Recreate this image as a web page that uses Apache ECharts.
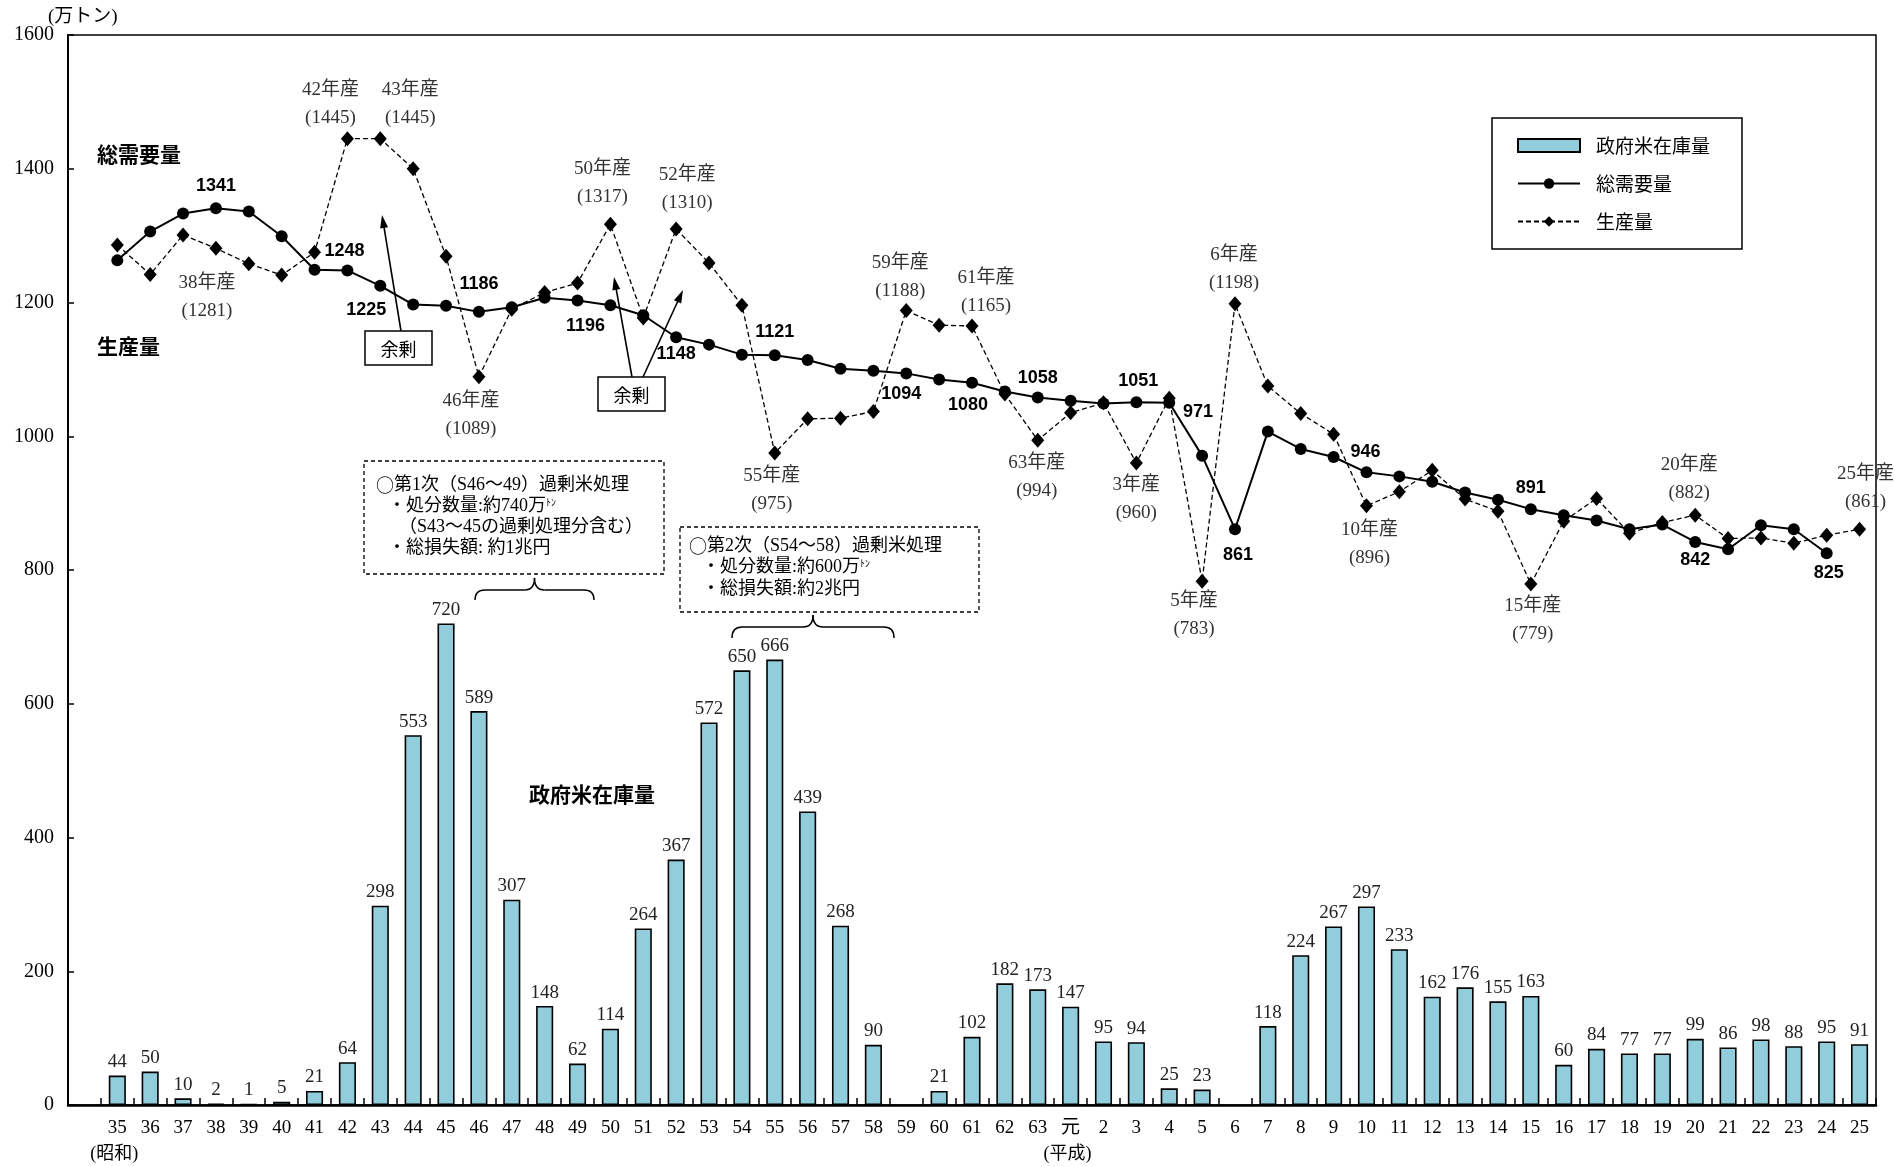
<!DOCTYPE html>
<html><head><meta charset="utf-8">
<script src="https://cdn.jsdelivr.net/npm/echarts@6/dist/echarts.min.js"></script>
<style>html,body{margin:0;padding:0;background:#fff}#c{width:1894px;height:1167px}</style>
</head><body><div id="c"></div>
<script>
// ---------- DATA ----------
const years = ['35','36','37','38','39','40','41','42','43','44','45','46','47','48','49','50','51','52','53','54','55','56','57','58','59','60','61','62','63',
  '元','2','3','4','5','6','7','8','9','10','11','12','13','14','15','16','17','18','19','20','21','22','23','24','25'];
const eraLabels = {'35':'(昭和)','元':'(平成)'};
const yTicks = {min:0, max:1600, interval:200};

// 政府米在庫量 (万トン)
const stock = [44,50,10,2,1,5,21,64,298,553,720,589,307,148,62,114,264,367,572,650,666,439,268,90,null,21,102,182,173,
  147,95,94,25,23,null,118,224,267,297,233,162,176,155,163,60,84,77,77,99,86,98,88,95,91];
// 総需要量
const demand = [1263,1306,1333,1341,1336,1299,1249,1248,1225,1197,1195,1186,1193,1207,1203,1196,1181,1148,1137,1122,1121,1114,1101,1098,1094,1085,1080,1067,1058,
  1053,1049,1051,1050,971,861,1007,981,969,946,940,932,916,905,891,882,874,861,868,842,831,867,861,825,null];
// 生産量
const production = [1286,1242,1301,1281,1258,1241,1275,1445,1445,1400,1269,1089,1190,1215,1229,1317,1177,1310,1259,1196,975,1026,1027,1037,1188,1166,1165,1063,994,
  1035,1050,960,1057,783,1198,1075,1034,1003,896,917,949,906,888,779,873,907,855,871,882,847,848,840,852,861];

const demandLabelled = ['38','42','43','46','50','52','55','59','61','63','3','5','6','10','15','20','24'];
const productionLabelled = ['38','42','43','46','50','52','55','59','61','63','3','5','6','10','15','20','25'];

// ---------- STYLE ----------
const demandLabelOffset = {'38':[0,-22],'42':[-3,-19],'43':[-14,24],'46':[0,-28],'50':[-25,21],'52':[0,17],'55':[0,-23],'59':[-5,21],'61':[-4,22],'63':[0,-19],'3':[2,-21],'5':[-4,-44],'6':[3,26],'10':[-1,-20],'15':[0,-21],'20':[0,18],'24':[2,20]};
const prodLabelOffset = {'38':[-9,49],'42':[-17,-35],'43':[30,-35],'46':[-8,38],'50':[-8,-41],'52':[11,-40],'55':[-3,37],'59':[-6,-34],'61':[14,-34],'63':[-1,37],'3':[0,36],'5':[-8,34],'6':[-1,-35],'10':[3,38],'15':[2,36],'20':[-6,-36],'25':[6,-41]};

const SERIF = "'Liberation Serif','Noto Sans CJK JP',serif";
const CJK = "'Noto Sans CJK JP',sans-serif";
const BOLDNUM = "'Liberation Sans',Arial,sans-serif";

const cats = [''].concat(years);
const pad = arr => [null].concat(arr);

const demandData = pad(demand).map((v,i)=>{
  const c = cats[i];
  if (v == null || !demandLabelled.includes(c)) return v;
  return {value:v, label:{show:true, position:'inside', offset:demandLabelOffset[c]||[0,-20],
    formatter:String(v), fontFamily:BOLDNUM, fontWeight:'bold', fontSize:18, color:'#000'}};
});
const prodData = pad(production).map((v,i)=>{
  const c = cats[i];
  if (v == null || !productionLabelled.includes(c)) return v;
  return {value:v, label:{show:true, position:'inside', offset:prodLabelOffset[c]||[0,-30],
    formatter:c+'年産\n('+v+')', fontFamily:SERIF, fontSize:19, lineHeight:28, color:'#333', align:'center'}};
});

// ---------- ANNOTATION HELPERS ----------
function arrow(x1,y1,x2,y2){
  const a=Math.atan2(y2-y1,x2-x1), L=13, W=4;
  const bx=x2-L*Math.cos(a), by=y2-L*Math.sin(a);
  const px=-Math.sin(a)*W, py=Math.cos(a)*W;
  return [
    {type:'line', shape:{x1,y1,x2:bx+(x2-bx)*0.3,y2:by+(y2-by)*0.3}, style:{stroke:'#000',lineWidth:1.6}},
    {type:'polygon', shape:{points:[[x2,y2],[bx+px,by+py],[bx-px,by-py]]}, style:{fill:'#000'}}
  ];
}
function brace(x0,x1,yt,ym,yb){
  const xc=(x0+x1)/2, r=10, st={stroke:'#000',lineWidth:1.5,fill:null};
  return [
    {type:'bezierCurve', shape:{x1:x0,y1:yb,cpx1:x0,cpy1:ym,x2:x0+r,y2:ym}, style:st},
    {type:'line', shape:{x1:x0+r,y1:ym,x2:xc-r,y2:ym}, style:st},
    {type:'bezierCurve', shape:{x1:xc-r,y1:ym,cpx1:xc,cpy1:ym,x2:xc,y2:yt}, style:st},
    {type:'bezierCurve', shape:{x1:xc,y1:yt,cpx1:xc,cpy1:ym,x2:xc+r,y2:ym}, style:st},
    {type:'line', shape:{x1:xc+r,y1:ym,x2:x1-r,y2:ym}, style:st},
    {type:'bezierCurve', shape:{x1:x1-r,y1:ym,cpx1:x1,cpy1:ym,x2:x1,y2:yb}, style:st}
  ];
}
function txt(x,y,text,o){
  return {type:'text', x, y, style:Object.assign({text, fill:'#000', fontFamily:SERIF, fontSize:18, verticalAlign:'middle'}, o||{})};
}
function boxText(x,y,w,h,text){
  return [
    {type:'rect', shape:{x,y,width:w,height:h}, style:{fill:'#fff',stroke:'#000',lineWidth:1.5}},
    {type:'text', x:x+w/2, y:y+h/2+1, style:{text, fill:'#000', fontFamily:CJK, fontSize:18, align:'center', verticalAlign:'middle'}}
  ];
}
const annRich = {
  s:{fontSize:10, fontFamily:CJK, verticalAlign:'top', fill:'#000', padding:[0,0,6,0]},
  c:{fontSize:18, fontFamily:CJK, fill:'#000'}
};

const graphics = [].concat(
  [txt(48,17,'(万トン)',{fontSize:19})],
  [txt(97,154,'総需要量',{fontFamily:CJK,fontWeight:'bold',fontSize:21})],
  [txt(97,346,'生産量',{fontFamily:CJK,fontWeight:'bold',fontSize:21})],
  [txt(529,794,'政府米在庫量',{fontFamily:CJK,fontWeight:'bold',fontSize:21})],
  arrow(401,331,382,215),
  arrow(632,377,614,277),
  arrow(643,377,683,290),
  boxText(365,331,67,34,'余剰'),
  boxText(598,377,67,34,'余剰'),
  [{type:'rect', shape:{x:364,y:461,width:300,height:113}, style:{fill:'#fff',stroke:'#000',lineWidth:1.3,lineDash:[4,3]}}],
  [txt(376,485,'{c|○}第1次（S46～49）過剰米処理',{rich:annRich}),
   txt(388,506,'・処分数量:約740万{s|ﾄﾝ}',{rich:annRich}),
   txt(399,527,'（S43～45の過剰処理分含む）'),
   txt(388,548,'・総損失額: 約1兆円')],
  brace(475,594,578,590,600),
  [{type:'rect', shape:{x:680,y:527,width:299,height:85}, style:{fill:'#fff',stroke:'#000',lineWidth:1.3,lineDash:[4,3]}}],
  [txt(689,546,'{c|○}第2次（S54～58）過剰米処理',{rich:annRich}),
   txt(702,567,'・処分数量:約600万{s|ﾄﾝ}',{rich:annRich}),
   txt(702,589,'・総損失額:約2兆円')],
  brace(732,894,615,627,638)
);

const chart = echarts.init(document.getElementById('c'));
chart.setOption({
  backgroundColor:'#fff',
  animation:false,
  grid:{left:68, right:18, top:35, bottom:54, show:true, borderColor:'#000', borderWidth:1.5, backgroundColor:'transparent'},
  legend:{
    orient:'vertical', left:1492, top:118,
    padding:[18,32,18,25], itemGap:19, itemWidth:62, itemHeight:13,
    borderColor:'#000', borderWidth:1.5, backgroundColor:'#fff',
    textStyle:{fontFamily:CJK, fontSize:19, color:'#000', padding:[0,0,0,11]},
    data:[{name:'政府米在庫量', icon:'rect'}, {name:'総需要量'}, {name:'生産量'}]
  },
  xAxis:{
    type:'category', data:cats, boundaryGap:true,
    axisLine:{lineStyle:{color:'#000', width:2.5}},
    axisTick:{show:true, inside:true, length:7, interval:0, lineStyle:{color:'#000', width:1.5}},
    axisLabel:{interval:0, margin:10, color:'#000', fontFamily:SERIF, fontSize:19, lineHeight:26,
      formatter:v => eraLabels[v] ? v+'\n{e|'+eraLabels[v]+'}' : v,
      rich:{e:{fontFamily:SERIF, fontSize:18, lineHeight:26, color:'#000', padding:[0,6,0,0]}}},
    splitLine:{show:false}
  },
  yAxis:{
    type:'value', min:yTicks.min, max:yTicks.max, interval:yTicks.interval,
    axisLine:{show:true, lineStyle:{color:'#000', width:2}},
    axisTick:{show:true, inside:true, length:6, lineStyle:{color:'#000', width:1.5}},
    axisLabel:{color:'#000', fontFamily:SERIF, fontSize:20, margin:14, formatter:v => String(v)},
    splitLine:{show:false}
  },
  series:[
    {name:'政府米在庫量', type:'bar', data:pad(stock), barWidth:'52%', z:1,
      itemStyle:{color:'#92CDDC', borderColor:'#000', borderWidth:1.6},
      label:{show:true, position:'top', distance:4, fontFamily:SERIF, fontSize:19, color:'#222'}},
    {name:'生産量', type:'line', data:prodData, z:3, symbol:'diamond', symbolSize:[13,15], showAllSymbol:true,
      lineStyle:{color:'#000', width:1.3, type:[5,3]}, itemStyle:{color:'#000'}, label:{show:false}},
    {name:'総需要量', type:'line', data:demandData, z:4, symbol:'circle', symbolSize:12, showAllSymbol:true,
      lineStyle:{color:'#000', width:2}, itemStyle:{color:'#000'}, label:{show:false}}
  ],
  graphic:{elements:graphics}
});
</script></body></html>
